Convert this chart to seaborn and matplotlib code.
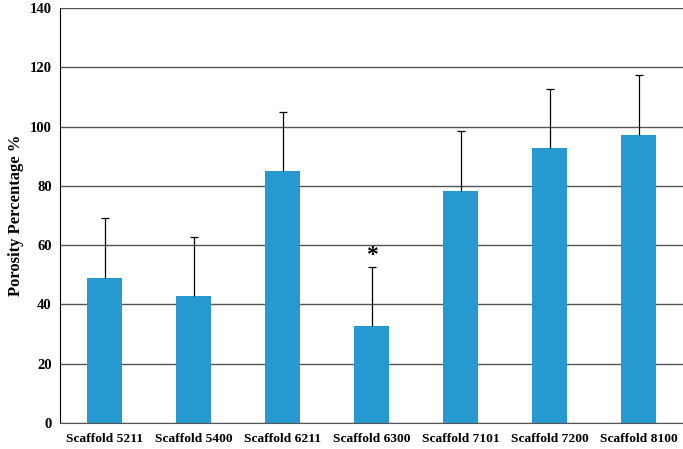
import pandas as pd
import matplotlib.pyplot as plt
import seaborn as sns

# Porosity values
scaffolds = ['Scaffold 5211', 'Scaffold 5400', 'Scaffold 6211', 'Scaffold 6300',
             'Scaffold 7101', 'Scaffold 7200', 'Scaffold 8100']
porosity = [49, 42.8, 85, 32.7, 78.4, 92.7, 97.3]
errors = [20, 20, 20, 20, 20, 20, 20]

df = pd.DataFrame({'scaffold': scaffolds, 'porosity': porosity})

sns.set_style('white')
plt.rcParams['font.family'] = ['Liberation Serif', 'DejaVu Serif']
plt.rcParams['text.color'] = 'black'
plt.rcParams['xtick.color'] = 'black'
plt.rcParams['ytick.color'] = 'black'
plt.rcParams['axes.labelcolor'] = 'black'

fig = plt.figure(figsize=(6.83, 4.49), dpi=100)
ax = fig.add_axes([0.088, 0.058, 0.912, 0.924])

ax.set_axisbelow(True)
ax.yaxis.grid(True, color='#555555', linewidth=1.0)
sns.barplot(data=df, x='scaffold', y='porosity', color='#2599D0',
            saturation=1, width=0.39, linewidth=0, ax=ax)

# upper-only error bars
xs = list(range(len(scaffolds)))
tops = [p + e for p, e in zip(porosity, errors)]
ax.vlines(xs, porosity, tops, color='black', linewidth=0.9)
ax.plot(xs, tops, linestyle='none', marker='_', markersize=6,
        markeredgewidth=0.9, color='black')

# significance mark above Scaffold 6300
ax.text(3, tops[3] + 0.3, '*', ha='center', va='bottom',
        fontsize=17, fontweight='bold')

ax.set_ylim(0, 140)
ax.set_xlim(-0.5, len(scaffolds) - 0.5)
ax.set_yticks(range(0, 141, 20))
ax.set_xlabel('')
ax.set_ylabel('Porosity Percentage %', fontsize=12, fontweight='bold')
ax.tick_params(axis='x', length=0, labelsize=9.7, pad=7)
ax.tick_params(axis='y', length=0, labelsize=10.5, pad=6)
for lbl in ax.get_xticklabels() + ax.get_yticklabels():
    lbl.set_fontweight('bold')

sns.despine(ax=ax, top=True, right=True)
ax.spines['left'].set_color('black')
ax.spines['bottom'].set_color('#555555')

fig.savefig('out.png', dpi=100)
